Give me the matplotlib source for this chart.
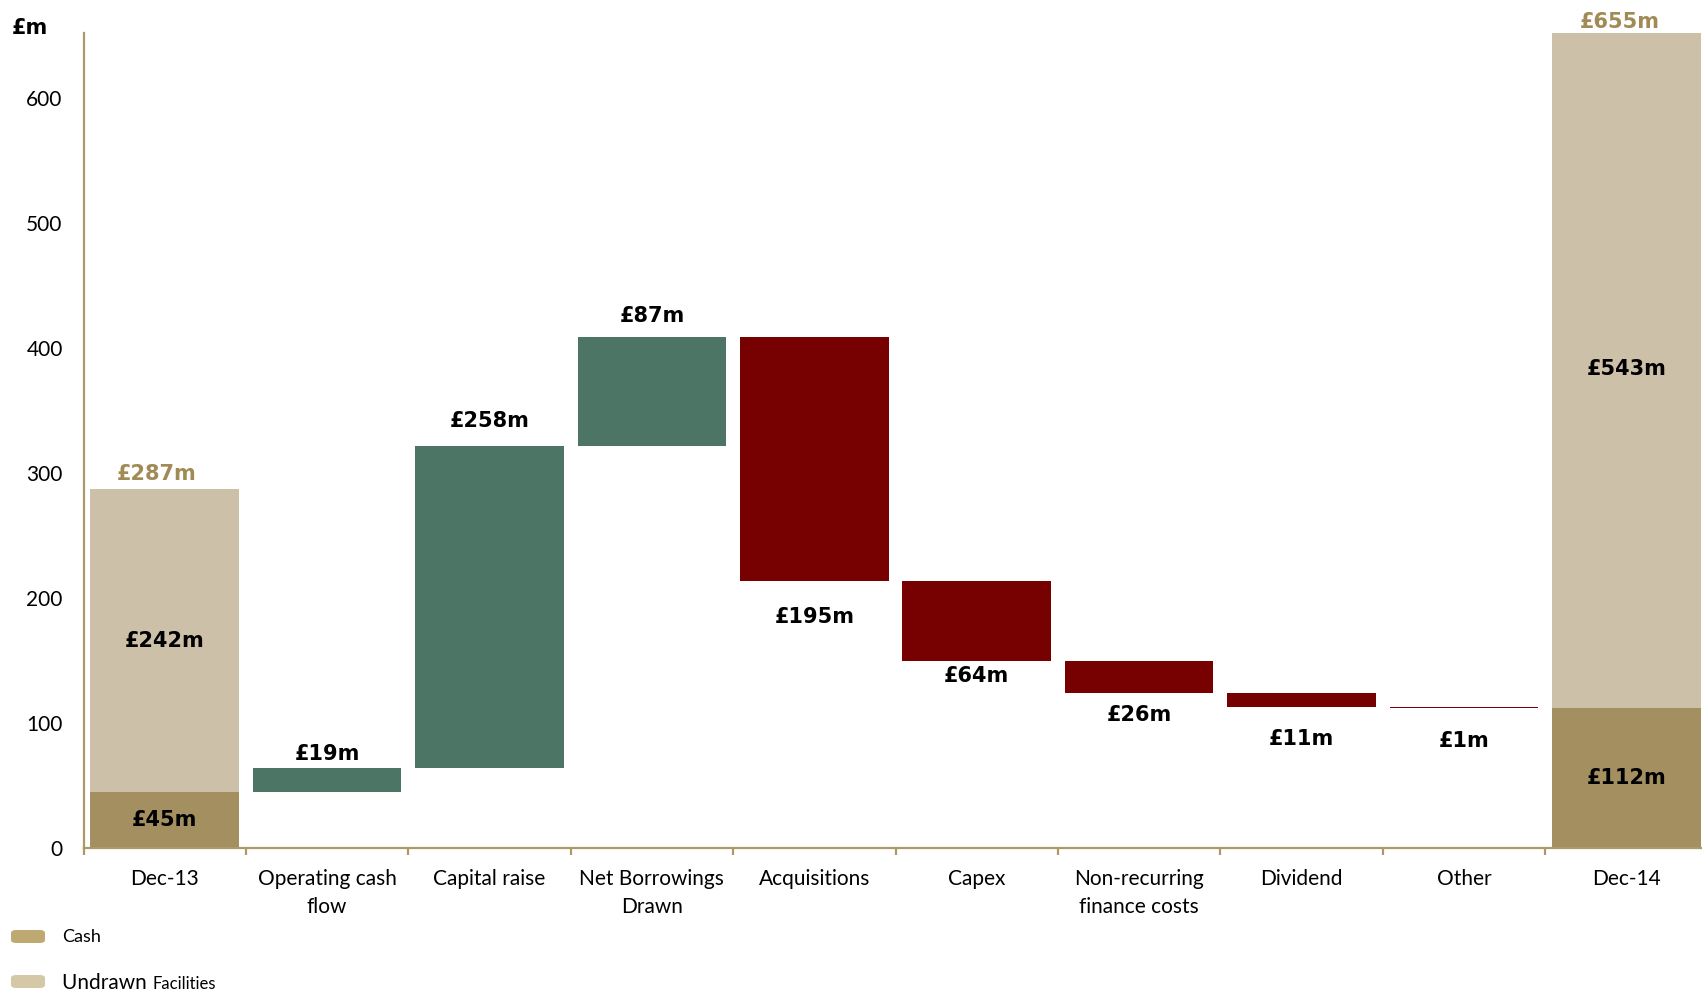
import matplotlib
matplotlib.use("Agg")
import matplotlib.pyplot as plt
from matplotlib.patches import FancyBboxPatch
from matplotlib.ticker import FixedLocator, NullFormatter

# ---- data (£m) ----
categories = ["Dec-13", "Operating cash\nflow", "Capital raise", "Net Borrowings\nDrawn",
              "Acquisitions", "Capex", "Non-recurring\nfinance costs", "Dividend", "Other", "Dec-14"]
start_cash = 45
start_undrawn = 242
start_total = 287
movements = [19, 258, 87, -195, -64, -26, -11, -1]
end_cash = 112
end_undrawn = 543
end_total = 655
y_ticks = [0, 100, 200, 300, 400, 500, 600]

# ---- style ----
CASH = "#A38F5F"
UNDRAWN = "#CCC0A8"
UP = "#4C7566"
DOWN = "#770000"
GOLD_TXT = "#A08A55"
AXIS = "#AD9868"
LEG_CASH = "#BEA973"
LEG_UNDRAWN = "#D4C8A6"
FONT = ["Lato", "DejaVu Sans"]
BOLD = ["DejaVu Sans"]
plt.rcParams["font.family"] = FONT

# vertical nudges (points) for the movement labels
label_offsets = [10, 18, 15, -26, -11, -16, -23, -24]

W, H, DPI = 1702, 993, 100
fig = plt.figure(figsize=(W / DPI, H / DPI), dpi=DPI)
ax = fig.add_axes([83.5 / W, 145 / H, 1624 / W, 814.9 / H])

bw = 0.915
n = len(categories)
xs = list(range(n))

def value_label(x, y, s, dy=0, dx=0, color="black"):
    ax.annotate(s, (x, y), xytext=(dx, dy), textcoords="offset points",
                ha="center", va="center", fontsize=15, fontweight="bold",
                family=BOLD, color=color, annotation_clip=False)

# opening position
ax.bar(0, start_cash, width=bw, color=CASH, linewidth=0)
ax.bar(0, start_undrawn, bottom=start_cash, width=bw, color=UNDRAWN, linewidth=0)

# movements
level = start_cash
for i, mv in enumerate(movements, start=1):
    lo = level if mv >= 0 else level + mv
    ax.bar(i, abs(mv), bottom=lo, width=bw, color=UP if mv >= 0 else DOWN, linewidth=0)
    anchor = lo + abs(mv) if mv >= 0 else lo
    value_label(i, anchor, f"£{abs(mv)}m", dy=label_offsets[i - 1])
    level += mv

# closing position
ax.bar(n - 1, end_cash, width=bw, color=CASH, linewidth=0)
ax.bar(n - 1, end_undrawn, bottom=end_cash, width=bw, color=UNDRAWN, linewidth=0)

# segment and total labels
value_label(0, start_cash / 2, f"£{start_cash}m")
value_label(0, start_cash + start_undrawn / 2, f"£{start_undrawn}m")
value_label(0, start_total, f"£{start_total}m", dx=-6, dy=11, color=GOLD_TXT)
value_label(n - 1, end_cash / 2, f"£{end_cash}m")
value_label(n - 1, end_cash + end_undrawn / 2, f"£{end_undrawn}m")
value_label(n - 1, end_total, f"£{end_total}m", dx=-5, dy=5, color=GOLD_TXT)

# axes
ax.set_xlim(-0.5, n - 0.5)
ax.set_ylim(0, 652)
for s in ["top", "right"]:
    ax.spines[s].set_visible(False)
ax.spines["left"].set_color(AXIS)
ax.spines["left"].set_linewidth(1.6)
ax.spines["bottom"].set_color(AXIS)
ax.spines["bottom"].set_linewidth(1.6)

ax.set_yticks(y_ticks)
ax.tick_params(axis="y", length=0, pad=15, labelsize=15, labelcolor="black")

ax.xaxis.set_major_locator(FixedLocator([x - 0.5 for x in xs] + [n - 0.5]))
ax.xaxis.set_major_formatter(NullFormatter())
ax.xaxis.set_minor_locator(FixedLocator(xs))
ax.set_xticklabels(categories, minor=True, fontsize=15, linespacing=1.5)
ax.tick_params(axis="x", which="major", length=5, width=1.6, color=AXIS, direction="out")
ax.tick_params(axis="x", which="minor", length=0, pad=15)

fig.text(30 / W, 1 - 28 / H, "£m", ha="center", va="center", fontsize=15,
         fontweight="bold", family=BOLD)

# legend
def legend_patch(y_px, color):
    p = FancyBboxPatch((11 / W, 1 - y_px / H), 34 / W, 13 / H,
                       boxstyle="round,pad=0,rounding_size=0.003",
                       transform=fig.transFigure, facecolor=color, edgecolor="none")
    fig.patches.append(p)

legend_patch(943, LEG_CASH)
fig.text(62 / W, 1 - 937 / H, "Cash", ha="left", va="center", fontsize=13)
legend_patch(988, LEG_UNDRAWN)
t = fig.text(62 / W, 1 - 983 / H, "Undrawn ", ha="left", va="center", fontsize=15)
fig.canvas.draw()
bb = t.get_window_extent()
fig.text(bb.x1 / W, 1 - 984 / H, "Facilities", ha="left", va="center", fontsize=12)

fig.savefig("out.png", dpi=DPI)
